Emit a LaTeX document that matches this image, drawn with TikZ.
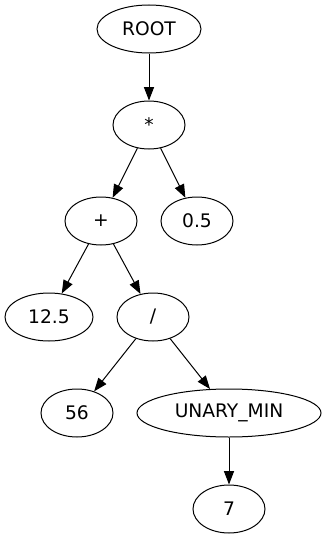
\documentclass[tikz,border=0pt]{standalone}
\usepackage{fontspec}
\setmainfont{DejaVu Sans}
\usetikzlibrary{shapes.geometric,arrows.meta}
\begin{document}
\begin{tikzpicture}[x=0.75pt,y=-0.75pt,
  tn/.style={ellipse,draw,line width=0.75pt,inner sep=0pt,minimum width=54pt,minimum height=36pt,font=\fontsize{14}{16}\selectfont},
  edge/.style={draw,line width=0.75pt,-{Triangle[length=10pt,width=7.5pt]}}]
\useasboundingbox (0,0) rectangle (327,539);
\node[tn,minimum width=78pt] (root) at (149,29) {ROOT};
\node[tn] (mul) at (149,125) {*};
\node[tn] (plus) at (101,221) {+};
\node[tn] (half) at (197,221) {0.5};
\node[tn,minimum width=66pt] (n125) at (49,317) {12.5};
\node[tn] (div) at (153,317) {/};
\node[tn] (n56) at (77,413) {56};
\node[tn,minimum width=138pt] (um) at (229,413) {UNARY\_MIN};
\node[tn] (n7) at (229,509) {7};
\draw[edge] (root) -- (mul);
\draw[edge] (mul) -- (plus);
\draw[edge] (mul) -- (half);
\draw[edge] (plus) -- (n125);
\draw[edge] (plus) -- (div);
\draw[edge] (div) -- (n56);
\draw[edge] (div) -- (um);
\draw[edge] (um) -- (n7);
\end{tikzpicture}
\end{document}
